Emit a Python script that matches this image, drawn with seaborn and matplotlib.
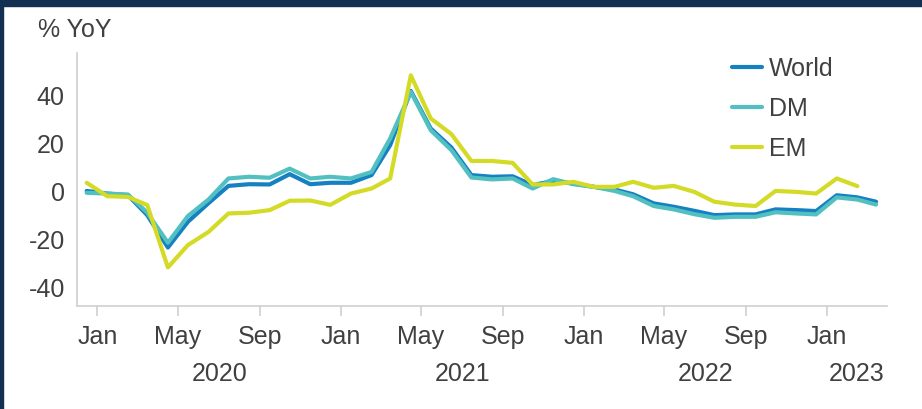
import pandas as pd
import matplotlib.pyplot as plt
import matplotlib.dates as mdates
from matplotlib.patches import Rectangle
import seaborn as sns

# Monthly % YoY, Dec 2019 - Mar 2023 (EM ends Feb 2023)
months = pd.date_range('2019-12-01', periods=40, freq='MS')

world = [0.1, -1.0, -1.7, -10.0, -23.5, -12.8, -5.0, 2.2, 2.9, 2.8,
         7.1, 2.9, 3.5, 3.5, 6.7, 19.2, 41.8, 26.1, 18.2, 6.7,
         6.0, 6.2, 2.5, 4.3, 3.2, 1.8, 0.7, -1.3, -5.1, -6.5,
         -8.2, -10.0, -9.7, -9.7, -7.6, -7.9, -8.3, -1.7, -2.6, -4.4]
dm = [-0.7, -1.0, -1.4, -9.0, -21.5, -10.4, -3.5, 5.3, 6.0, 5.6,
      9.4, 5.3, 6.0, 5.3, 8.0, 22.0, 41.4, 25.4, 17.1, 5.7,
      4.9, 5.3, 1.1, 5.0, 2.9, 1.8, 0.1, -2.1, -6.2, -7.6,
      -9.6, -11.1, -10.7, -10.7, -8.8, -9.3, -9.7, -2.6, -3.5, -5.6]
em = [3.5, -2.1, -2.4, -5.8, -31.8, -22.5, -17.0, -9.3, -9.0, -7.9,
      -4.0, -3.9, -5.7, -1.0, 1.1, 5.3, 48.3, 30.3, 23.8, 12.6,
      12.6, 11.8, 2.8, 2.8, 3.9, 1.8, 1.8, 3.9, 1.4, 2.2,
      -0.3, -4.4, -5.6, -6.2, 0.1, -0.3, -1.0, 5.3, 2.1]

series_names = ['World', 'DM', 'EM']
colors = {'World': '#1580c2', 'DM': '#52c0c1', 'EM': '#d4db26'}
y_ticks = [-40, -20, 0, 20, 40]
tick_months = [1, 5, 9]

# points sit mid-month, like an Excel date axis
mid = months + pd.Timedelta(days=15)
frames = []
for name, vals in zip(series_names, [world, dm, em]):
    frames.append(pd.DataFrame({'date': mid[:len(vals)], 'value': vals, 'series': name}))
df = pd.concat(frames, ignore_index=True)

sns.set_theme(style='white')
plt.rcParams['font.family'] = ['Liberation Sans', 'DejaVu Sans']
plt.rcParams['axes.unicode_minus'] = False
text_col = '#404040'
grey = '#d0d0d0'

fig = plt.figure(figsize=(9.22, 4.09), dpi=100)
ax = fig.add_axes([0.0832, 0.2518, 0.8785, 0.6179])

sns.lineplot(data=df, x='date', y='value', hue='series', hue_order=series_names,
             palette=colors, linewidth=3, ax=ax)

x0 = pd.Timestamp('2019-12-01')
x1 = pd.Timestamp('2023-04-01')
ax.set_xlim(x0, x1)
ax.set_ylim(-47.9, 57.5)

ax.set_yticks(y_ticks)
ax.set_yticklabels([str(v) for v in y_ticks])
ticks = [m for m in months if m.month in tick_months]
ax.set_xticks(ticks)
ax.set_xticklabels([m.strftime('%b') for m in ticks])
ax.tick_params(axis='x', length=7.2, width=1.2, color=grey, pad=6.5,
               labelsize=18, labelcolor=text_col, direction='out', bottom=True)
ax.tick_params(axis='y', length=0, pad=8.6, labelsize=18, labelcolor=text_col)
ax.set_xlabel('')
ax.set_ylabel('')

for s in ['top', 'right']:
    ax.spines[s].set_visible(False)
for s in ['left', 'bottom']:
    ax.spines[s].set_color(grey)
    ax.spines[s].set_linewidth(1.2)

# year labels centred on each year's span
for yr in [2020, 2021, 2022, 2023]:
    a = max(pd.Timestamp(f'{yr}-01-01'), x0)
    b = min(pd.Timestamp(f'{yr + 1}-01-01'), x1)
    xm = mdates.date2num(a) + (mdates.date2num(b) - mdates.date2num(a)) / 2
    ax.text(xm, -0.298, str(yr), transform=ax.get_xaxis_transform(),
            ha='center', va='baseline', fontsize=18, color=text_col)

fig.text(38 / 922, 1 - 37 / 409, '% YoY', ha='left', va='baseline',
         fontsize=18, color=text_col)

handles, labels = ax.get_legend_handles_labels()
leg = ax.legend(handles, labels, loc='upper left', bbox_to_anchor=(731.7 / 922, 1 - 57 / 409),
                bbox_transform=fig.transFigure, frameon=False, fontsize=18,
                handlelength=1.2, handletextpad=0.3, labelspacing=0.63,
                borderpad=0, borderaxespad=0)
for t in leg.get_texts():
    t.set_color(text_col)
for h in leg.get_lines():
    h.set_linewidth(3)

# navy frame: top bar and left edge
navy = '#132f52'
fig.patches.append(Rectangle((0, 1 - 6 / 409), 1, 6 / 409, transform=fig.transFigure,
                             color=navy, zorder=10))
fig.patches.append(Rectangle((0, 0), 3 / 922, 1, transform=fig.transFigure,
                             color=navy, zorder=10))

fig.savefig('out.png', dpi=100)
